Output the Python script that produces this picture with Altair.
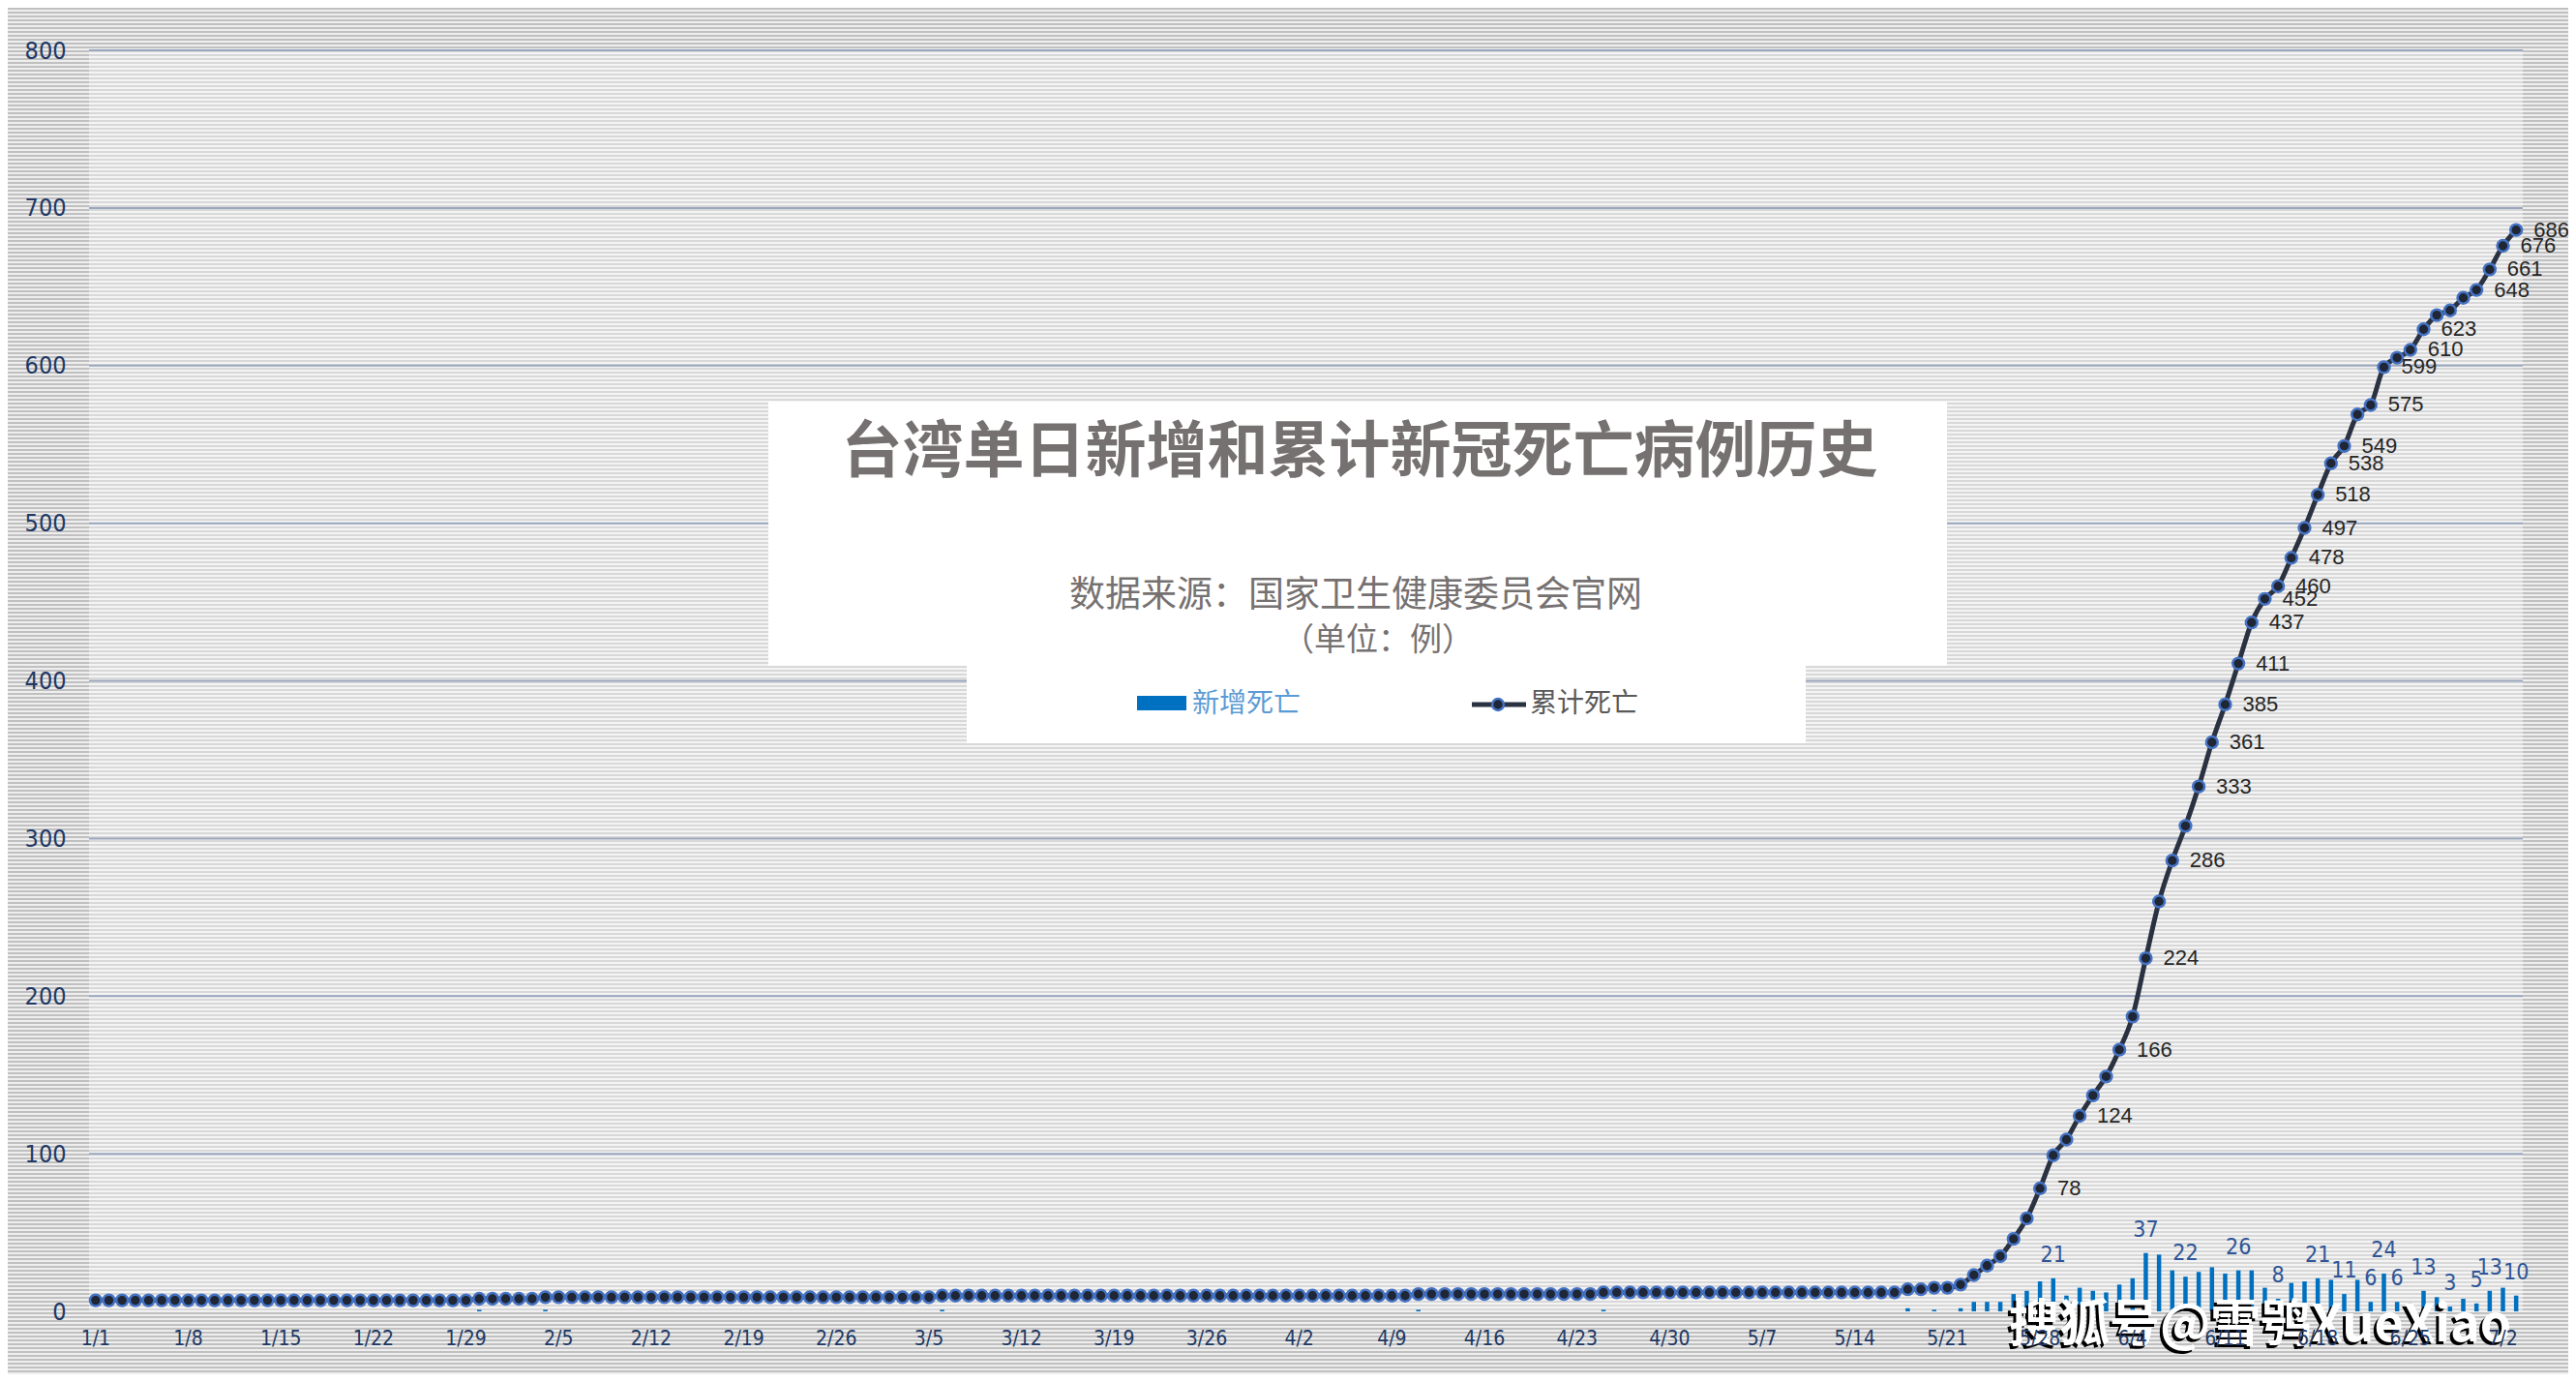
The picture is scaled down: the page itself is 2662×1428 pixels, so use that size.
import altair as alt
import pandas as pd

# ---------------- data ----------------
dates = [f"{d.month}/{d.day}" for d in pd.date_range("2021-01-01", "2021-07-03")]

new_deaths = ([0] * 29 + [1] + [0] * 4 + [1] + [0] * 29 + [1] + [0] * 35 + [1] + [0] * 13 + [1] + [0] * 22
              + [2, 0, 1, 0, 2, 6, 6, 6, 11, 13, 19, 21, 10, 15, 13, 12, 17, 21, 37, 36, 26, 22, 25, 28,
                 24, 26, 26, 15, 8, 18, 19, 21, 20, 11, 20, 6, 24, 6, 5, 13, 9, 3, 8, 5, 13, 15, 10])

cum_deaths = ([7] * 29 + [8] * 5 + [9] * 30 + [10] * 36 + [11] * 14 + [12] * 23
              + [14, 14, 15, 15, 17, 23, 29, 35, 46, 59, 78, 99, 109, 124, 137, 149, 166, 187, 224, 260,
                 286, 308, 333, 361, 385, 411, 437, 452, 460, 478, 497, 518, 538, 549, 569, 575, 599, 605,
                 610, 623, 632, 635, 643, 648, 661, 676, 686])

cum_label_dates = ["5/28", "5/31", "6/3", "6/5", "6/7", "6/9", "6/10", "6/11", "6/12", "6/13", "6/14",
                   "6/15", "6/16", "6/17", "6/18", "6/19", "6/20", "6/22", "6/23", "6/25", "6/26",
                   "6/30", "7/1", "7/2", "7/3"]
bar_label_dates = ["5/29", "6/5", "6/8", "6/12", "6/15", "6/18", "6/20", "6/22", "6/23", "6/24",
                   "6/26", "6/28", "6/30", "7/1", "7/3"]

x_ticks = ["1/1", "1/8", "1/15", "1/22", "1/29", "2/5", "2/12", "2/19", "2/26", "3/5", "3/12", "3/19",
           "3/26", "4/2", "4/9", "4/16", "4/23", "4/30", "5/7", "5/14", "5/21", "5/28", "6/4", "6/11",
           "6/18", "6/25", "7/2"]
y_ticks = [0, 100, 200, 300, 400, 500, 600, 700, 800]
grid_values = [100, 200, 300, 400, 500, 600, 700, 800]

title_text = "台湾单日新增和累计新冠死亡病例历史"
subtitle_text = "数据来源：国家卫生健康委员会官网"
unit_text = "（单位：例）"
legend_new = "新增死亡"
legend_cum = "累计死亡"
watermark = "搜狐号@雪鸮XueXiao"

df = pd.DataFrame({"date": dates, "new": new_deaths, "cum": cum_deaths})
cum_lab_df = df[df["date"].isin(cum_label_dates)]
bar_lab_df = df[df["date"].isin(bar_label_dates)]
grid_df = pd.DataFrame({"g": grid_values})
one = pd.DataFrame({"k": [0]})

# ---------------- layout ----------------
W, H = 2515, 1303
PAD_L, PAD_T, PAD_R, PAD_B = 84, 44, 47, 65
TOT_W = PAD_L + W + PAD_R
TOT_H = PAD_T + H + PAD_B

NARROW = "Liberation Sans Narrow, Arial Narrow, DejaVu Sans Condensed, sans-serif"
SANS = "Liberation Sans, Arial, sans-serif"
CJK = "Noto Sans CJK SC"


def stripes(height, period, dark, light, dark_px):
    stops = []
    k = 0
    while k * period < height:
        a = k * period / height
        b = min((k * period + dark_px) / height, 1.0)
        c = min((k + 1) * period / height, 1.0)
        stops += [{"offset": round(a, 6), "color": dark}, {"offset": round(b, 6), "color": dark},
                  {"offset": round(b, 6), "color": light}, {"offset": round(c, 6), "color": light}]
        k += 1
    return {"gradient": "linear", "x1": 0, "y1": 0, "x2": 0, "y2": 1, "stops": stops}


xscale = alt.Scale(paddingInner=0, paddingOuter=0)
yscale = alt.Scale(domain=[0, 800], nice=False)
xaxis = alt.Axis(values=x_ticks, labelAngle=0, ticks=False, domain=False, grid=False, title="",
                 labelFont=NARROW, labelFontSize=21, labelColor="#203864", labelPadding=17,
                 labelOverlap=False, labelFlush=False, zindex=1)
yaxis = alt.Axis(values=y_ticks, ticks=False, domain=False, grid=False, title="",
                 labelFont=NARROW, labelFontSize=25, labelColor="#203864", labelPadding=24, zindex=1)

X = alt.X("date:O", sort=dates, scale=xscale, axis=xaxis)


def Y(field):
    return alt.Y(f"{field}:Q", scale=yscale, axis=yaxis)


outer = alt.Chart(one).mark_rect(fill=stripes(TOT_H, 4, "#c0c0c0", "#eeeeee", 2)).encode(
    x=alt.value(-PAD_L), x2=alt.value(TOT_W - PAD_L), y=alt.value(-PAD_T), y2=alt.value(TOT_H - PAD_T))
inner = alt.Chart(one).mark_rect(fill=stripes(H, 4, "#d8d8d8", "#f4f4f4", 2)).encode(
    x=alt.value(0), x2=alt.value(W), y=alt.value(0), y2=alt.value(H))

grid = alt.Chart(grid_df).mark_rule(color="#9ba7bf", strokeWidth=2).encode(y=Y("g"))

title_box = alt.Chart(one).mark_rect(color="white").encode(
    x=alt.value(702), x2=alt.value(1920), y=alt.value(363), y2=alt.value(636))
legend_box = alt.Chart(one).mark_rect(color="white").encode(
    x=alt.value(907), x2=alt.value(1774), y=alt.value(635), y2=alt.value(716))

t_title = alt.Chart(one).mark_text(text=title_text, font=CJK, fontSize=63, fontWeight="bold",
                                   color="#767171", align="center", baseline="middle").encode(
    x=alt.value(1313), y=alt.value(416))
t_sub = alt.Chart(one).mark_text(text=subtitle_text, font=CJK, fontSize=37, color="#767171",
                                 align="center", baseline="middle").encode(
    x=alt.value(1309), y=alt.value(564))
t_unit = alt.Chart(one).mark_text(text=unit_text, font=CJK, fontSize=33, color="#767171",
                                  align="center", baseline="middle").encode(
    x=alt.value(1332), y=alt.value(610))

lg_rect = alt.Chart(one).mark_rect(color="#0070c0").encode(
    x=alt.value(1083), x2=alt.value(1134), y=alt.value(667), y2=alt.value(682))
lg_new = alt.Chart(one).mark_text(text=legend_new, font=CJK, fontSize=28, color="#5b9bd5",
                                  align="left", baseline="middle").encode(
    x=alt.value(1140), y=alt.value(676))
lg_line = alt.Chart(one).mark_rule(color="#2a3241", strokeWidth=5).encode(
    x=alt.value(1429), x2=alt.value(1485), y=alt.value(676))
lg_dot = alt.Chart(one).mark_circle(size=140, color="#1f2636", stroke="#4472c4", strokeWidth=2.5,
                                    opacity=1).encode(x=alt.value(1456), y=alt.value(676))
lg_cum = alt.Chart(one).mark_text(text=legend_cum, font=CJK, fontSize=28, color="#595959",
                                  align="left", baseline="middle").encode(
    x=alt.value(1489), y=alt.value(676))

bars = alt.Chart(df).mark_bar(size=4.5, color="#0070c0").encode(x=X, y=Y("new"))
line = alt.Chart(df).mark_line(color="#2a3241", strokeWidth=5, interpolate="monotone").encode(
    x=X, y=Y("cum"))
points = alt.Chart(df).mark_circle(size=140, color="#1f2636", stroke="#4472c4", strokeWidth=2.5,
                                   opacity=1).encode(x=X, y=Y("cum"))

cum_labels = alt.Chart(cum_lab_df).mark_text(font=SANS, fontSize=22, color="#262626", align="left",
                                             baseline="middle", dx=18).encode(
    x=X, y=Y("cum"), text="cum:Q")
bar_labels = alt.Chart(bar_lab_df).mark_text(font=NARROW, fontSize=23, color="#2f5597", align="center",
                                             baseline="alphabetic", dy=-17).encode(
    x=X, y=Y("new"), text="new:Q")

wm_shadow = alt.Chart(one).mark_text(text=watermark, font=CJK, fontSize=52, fontWeight="bold",
                                     color="black", align="left", baseline="middle").encode(
    x=alt.value(1981), y=alt.value(1321))
wm = alt.Chart(one).mark_text(text=watermark, font=CJK, fontSize=52, fontWeight="bold",
                              color="white", align="left", baseline="middle").encode(
    x=alt.value(1984), y=alt.value(1318))

chart = alt.layer(
    outer, inner, grid, title_box, legend_box, t_title, t_sub, t_unit,
    lg_rect, lg_new, lg_line, lg_dot, lg_cum,
    bars, line, points, cum_labels, bar_labels, wm_shadow, wm
).properties(
    width=W, height=H,
    padding={"left": PAD_L, "top": PAD_T, "right": PAD_R, "bottom": PAD_B},
    autosize=alt.AutoSizeParams(type="none"),
    background="#e0e0e0",
).configure_view(strokeWidth=0)

chart.save("out.html", embed_options={"renderer": "svg", "actions": False})
